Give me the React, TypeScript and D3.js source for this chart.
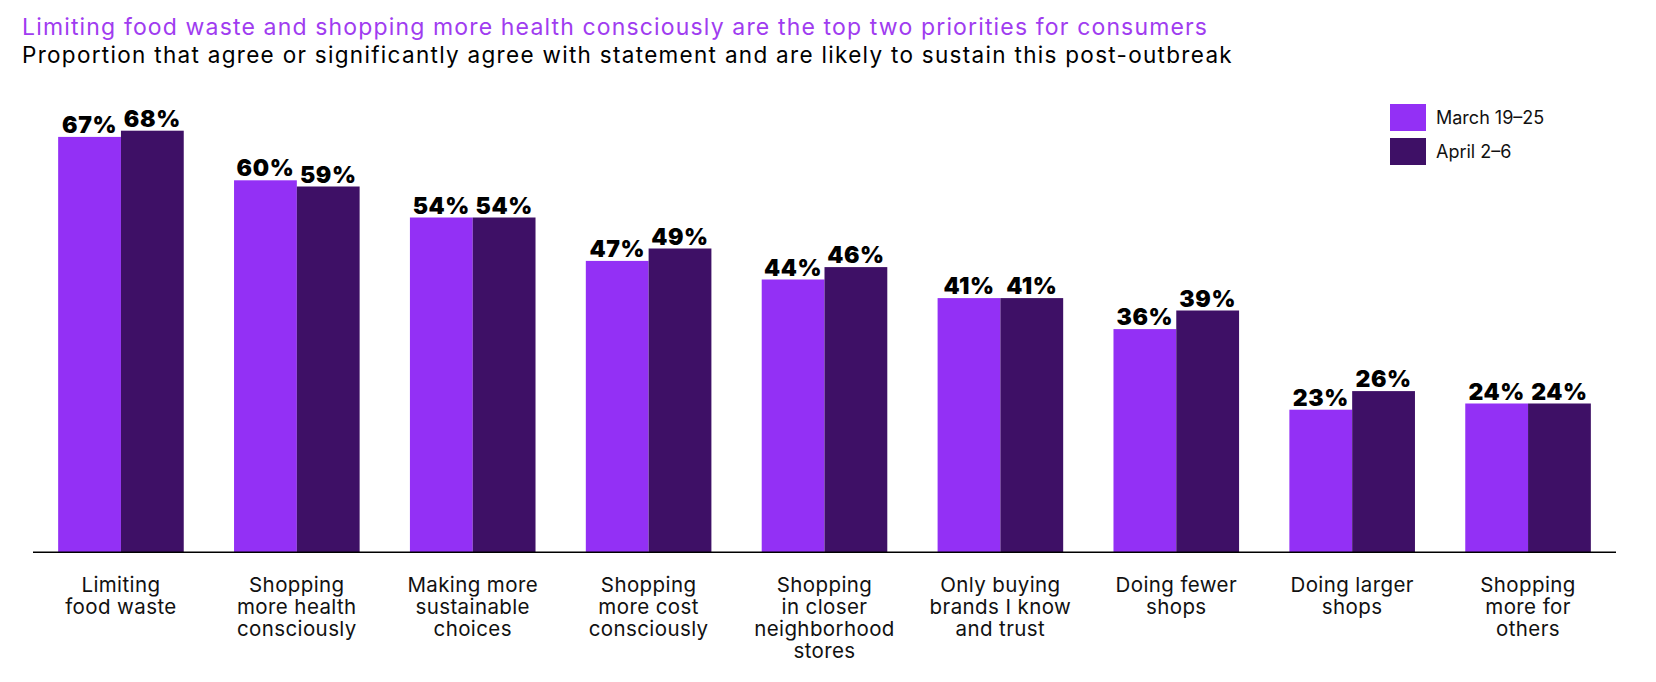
import { useEffect, useRef } from 'react';
import * as d3 from 'd3';

const categories = [
  ['Limiting', 'food waste'],
  ['Shopping', 'more health', 'consciously'],
  ['Making more', 'sustainable', 'choices'],
  ['Shopping', 'more cost', 'consciously'],
  ['Shopping', 'in closer', 'neighborhood', 'stores'],
  ['Only buying', 'brands I know', 'and trust'],
  ['Doing fewer', 'shops'],
  ['Doing larger', 'shops'],
  ['Shopping', 'more for', 'others'],
];
const seriesNames = ['March 19–25', 'April 2–6'];
const march = [67, 60, 54, 47, 44, 41, 36, 23, 24];
const april = [68, 59, 54, 49, 46, 41, 39, 26, 24];
const colors = ['#9330f5', '#3e1066'];

const title = 'Limiting food waste and shopping more health consciously are the top two priorities for consumers';
const subtitle = 'Proportion that agree or significantly agree with statement and are likely to sustain this post-outbreak';

const W = 1656;
const H = 682;

const App = () => {
  const svgRef = useRef<SVGSVGElement>(null);

  useEffect(() => {
    document.body.style.margin = '0';
    if (!svgRef.current) return;
    const svg = d3.select(svgRef.current);
    svg.selectAll('*').remove();

    const font = 'Inter, "Noto Sans", sans-serif';
    const baseY = 552.3;

    const x0 = d3.scaleBand<number>()
      .domain(d3.range(categories.length))
      .range([33, 1616])
      .paddingInner(0.286)
      .paddingOuter(0.143);
    const x1 = d3.scaleBand<number>()
      .domain([0, 1])
      .range([0, x0.bandwidth()]);
    const y = d3.scaleLinear().domain([0, 100]).range([baseY, baseY - 620]);

    // titles
    svg.append('text')
      .attr('x', 22).attr('y', 35)
      .attr('fill', '#a03cf0')
      .style('font-family', font)
      .style('font-size', '23px')
      .style('letter-spacing', '1.15px')
      .text(title);
    svg.append('text')
      .attr('x', 22).attr('y', 62.5)
      .attr('fill', '#000')
      .style('font-family', font)
      .style('font-size', '22.5px')
      .style('letter-spacing', '1.3px')
      .text(subtitle);

    const series = [march, april];
    const g = svg.append('g');

    series.forEach((vals, si) => {
      g.selectAll(`rect.s${si}`)
        .data(vals)
        .join('rect')
        .attr('class', `s${si}`)
        .attr('x', (_, i) => (x0(i) ?? 0) + (x1(si) ?? 0))
        .attr('y', d => y(d))
        .attr('width', x1.bandwidth())
        .attr('height', d => baseY - y(d))
        .attr('fill', colors[si]);

      g.selectAll(`text.l${si}`)
        .data(vals)
        .join('text')
        .attr('class', `l${si}`)
        .attr('x', (_, i) => (x0(i) ?? 0) + (x1(si) ?? 0) + x1.bandwidth() / 2)
        .attr('y', d => y(d) - 4)
        .attr('text-anchor', 'middle')
        .style('font-family', font)
        .style('font-size', '23px')
        .style('font-weight', 900)
        .style('letter-spacing', '0.6px')
        .text(d => `${d}%`);
    });

    // axis line
    svg.append('line')
      .attr('x1', 33).attr('x2', 1616)
      .attr('y1', baseY).attr('y2', baseY)
      .attr('stroke', '#000')
      .attr('stroke-width', 1.5);

    // category labels
    const lab = svg.selectAll('text.cat')
      .data(categories)
      .join('text')
      .attr('class', 'cat')
      .attr('text-anchor', 'middle')
      .style('font-family', font)
      .style('font-size', '20.5px')
      .style('letter-spacing', '0.4px')
      .attr('fill', '#111');
    lab.each(function (lines, i) {
      const t = d3.select(this);
      lines.forEach((ln, li) => {
        t.append('tspan')
          .attr('x', (x0(i) ?? 0) + x0.bandwidth() / 2)
          .attr('y', 592.3 + li * 22)
          .text(ln);
      });
    });

    // legend
    const leg = svg.append('g');
    seriesNames.forEach((name, si) => {
      const ly = 104 + si * 34;
      leg.append('rect')
        .attr('x', 1390).attr('y', ly)
        .attr('width', 36).attr('height', 27)
        .attr('fill', colors[si]);
      leg.append('text')
        .attr('x', 1436).attr('y', ly + 20)
        .style('font-family', font)
        .style('font-size', '18px')
        .attr('fill', '#111')
        .text(name);
    });
  }, []);

  return <svg ref={svgRef} width={W} height={H} style={{ display: 'block', background: '#fff' }} />;
};

export default App;
